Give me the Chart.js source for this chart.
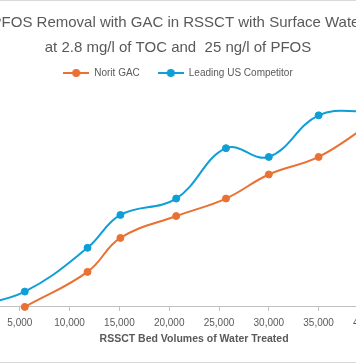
<!DOCTYPE html>
<html>
<head>
<meta charset="utf-8">
<script src="https://cdn.jsdelivr.net/npm/chart.js@4/dist/chart.umd.min.js"></script>
<style>
html,body{margin:0;padding:0;background:#ffffff;overflow:hidden;width:356px;height:364px;}
#frame{position:absolute;left:-85px;top:0px;width:524px;height:361px;border:1px solid #D9D9D9;background:#fff;}
#c{display:block;}
</style>
</head>
<body>
<div id="frame"><canvas id="c" width="524" height="360"></canvas></div>
<script>
// Data (y: effluent PFOS, arbitrary units)
const bedVolumesNorit = [5500, 11800, 15100, 20700, 25700, 30000, 35000, 40000];
const noritGAC = [0, 3.2, 6.3, 8.3, 9.9, 12.1, 13.7, 16.6];
const bedVolumesCompetitor = [0, 5500, 11800, 15100, 20700, 25700, 30000, 35000, 40000];
const competitor = [0, 1.4, 5.4, 8.4, 9.9, 14.5, 13.7, 17.5, 17.9];
const seriesNames = ['Norit GAC', 'Leading US Competitor'];
const titleLines = ['PFOS Removal with GAC in RSSCT with Surface Water', 'at 2.8 mg/l of TOC and  25 ng/l of PFOS'];
const xAxisTitle = 'RSSCT Bed Volumes of Water Treated';

const ORANGE = '#E97132';
const BLUE = '#0F9ED5';
const TEXT = '#595959';
const FONT = "'Liberation Sans', Arial, sans-serif";

function legendIcon(color) {
  const c = document.createElement('canvas');
  c.width = 26; c.height = 10;
  const g = c.getContext('2d');
  g.strokeStyle = color; g.lineWidth = 2;
  g.beginPath(); g.moveTo(0, 5); g.lineTo(26, 5); g.stroke();
  g.fillStyle = color;
  g.beginPath(); g.arc(13, 5, 4, 0, Math.PI * 2); g.fill();
  return c;
}
const icons = [legendIcon(ORANGE), legendIcon(BLUE)];

function pts(xs, ys) { return xs.map((x, i) => ({x: x, y: ys[i]})); }

function ds(label, data, color) {
  return {
    label: label, data: data,
    borderColor: color, backgroundColor: color,
    borderWidth: 2, pointRadius: 3.5, pointBorderWidth: 1, pointHoverRadius: 3.5,
    pointBackgroundColor: color, pointBorderColor: color,
    tension: 0.4, fill: false, clip: false
  };
}

new Chart(document.getElementById('c'), {
  type: 'line',
  data: {
    datasets: [
      ds(seriesNames[0], pts(bedVolumesNorit, noritGAC), ORANGE),
      ds(seriesNames[1], pts(bedVolumesCompetitor, competitor), BLUE)
    ]
  },
  options: {
    responsive: false, animation: false, devicePixelRatio: 1, locale: 'en-US',
    layout: {padding: {left: 20, right: 20, top: 0, bottom: 15.3}},
    plugins: {
      title: {
        display: true, text: titleLines, color: TEXT,
        font: {family: FONT, size: 15, weight: 'normal', lineHeight: 25 / 15},
        padding: {top: 9.5, bottom: -10.5}
      },
      legend: {
        display: true, position: 'top',
        labels: {
          usePointStyle: true, pointStyleWidth: 26, boxHeight: 10, padding: 18,
          color: TEXT, font: {family: FONT, size: 10},
          generateLabels: function (chart) {
            const items = Chart.defaults.plugins.legend.labels.generateLabels(chart);
            items.forEach((it, i) => { it.pointStyle = icons[i]; });
            return items;
          }
        }
      },
      tooltip: {enabled: false}
    },
    scales: {
      x: {
        type: 'linear', min: 0, max: 45000,
        ticks: {stepSize: 5000, color: TEXT, font: {family: FONT, size: 10}, padding: 6.5, maxRotation: 0, autoSkip: false},
        grid: {drawOnChartArea: false, drawTicks: true, tickLength: 4, color: '#BFBFBF'},
        border: {color: '#BFBFBF', width: 1},
        title: {display: true, text: xAxisTitle, color: TEXT, font: {family: FONT, size: 10.5, weight: 'bold'}, padding: {top: -2.8, bottom: 0}}
      },
      y: {
        min: 0, max: 20, display: true,
        ticks: {display: false}, grid: {display: false}, border: {display: false},
        afterFit: function (s) { s.width = 34; }
      }
    }
  }
});
</script>
</body>
</html>
